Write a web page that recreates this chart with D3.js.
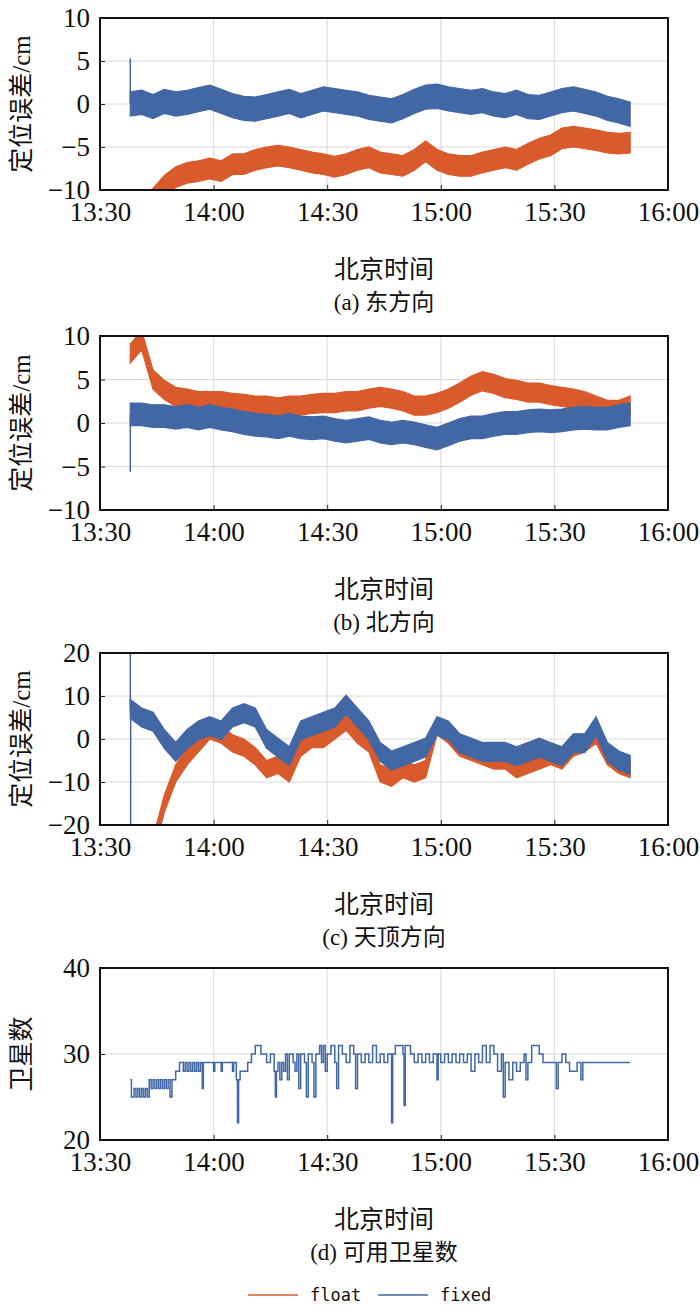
<!DOCTYPE html>
<html><head><meta charset="utf-8">
<script src="https://cdn.jsdelivr.net/npm/d3@7"></script>
<style>
body{margin:0;background:#fff}
text{font-family:"Liberation Serif","DejaVu Serif",serif;fill:#111}
.cjk{font-family:"Noto Sans CJK SC",sans-serif}
</style></head><body>
<svg id="chart" width="700" height="1310"></svg>
<script>
// minutes after 13:30
const T = [8,11,14,17,20,23,26,29,32,35,38,41,44,47,50,53,56,59,62,65,68,71,74,77,80,83,86,89,92,95,98,101,104,107,110,113,116,119,122,125,128,131,134,137,140];
const tickMin = [0,30,60,90,120,150];
const tickLabels = ['13:30','14:00','14:30','15:00','15:30','16:00'];

const eastFixed = [0,0.2,-0.3,0.3,0,0.2,0.5,0.8,0.3,-0.2,-0.5,-0.6,-0.3,0,0.3,-0.2,0.2,0.6,0.4,0.2,0,-0.4,-0.6,-0.8,-0.3,0.3,0.8,0.9,0.6,0.4,0.2,0.4,0,-0.2,0.2,-0.3,-0.4,0,0.4,0.6,0.3,0,-0.5,-0.8,-1.2];
const eastFloat = [-12,-12,-11,-9.5,-8.5,-8,-7.8,-7.5,-7.8,-7,-7,-6.5,-6.2,-6,-6.2,-6.5,-6.8,-7,-7.3,-7,-6.5,-6.2,-6.8,-7,-7.2,-6.5,-5.5,-6.5,-7,-7.2,-7.2,-6.8,-6.5,-6.2,-6.5,-5.8,-5.2,-4.8,-4,-3.8,-4,-4.2,-4.5,-4.6,-4.5];
const northFixed = [1,1,0.8,0.8,0.6,0.8,0.5,0.8,0.5,0.3,0,-0.2,-0.3,-0.5,-0.2,-0.5,-0.6,-0.5,-0.8,-1,-0.8,-0.6,-1,-1.2,-1,-1.2,-1.5,-1.8,-1.3,-0.8,-0.5,-0.5,-0.2,0,0,0.2,0.3,0.2,0.3,0.5,0.6,0.5,0.5,0.8,1];
const northFloat = [8,9.5,5,3.8,3,2.8,2.5,2.5,2.5,2.3,2.2,2,2,1.8,2,2,2.2,2.3,2.3,2.5,2.5,2.8,3,2.8,2.5,2,2,2.3,2.8,3.5,4.3,4.8,4.5,4,3.8,3.5,3.5,3.2,3,2.8,2.5,2,1.5,1.5,2];
const upFixed = [7,5,4,0,-3,0,2,3,2,5,6,5,0,-2,-4,2,3,4,5,8,5,2,-3,-5,-4,-3,-2,3,2,-1,-2,-3,-3,-3,-4,-3,-2,-3,-4,-1,-1,3,-3,-5,-6];
const upFloat = [null,null,-25,-15,-8,-4,-1,2,1,-1,-2,-4,-7,-6,-8,-2,0,0,2,4,1,-1,-8,-9,-7,-8,-7,3,1,-2,-3,-4,-5,-5,-7,-6,-5,-4,-5,-2,-1,1,-4,-6,-7];
// noise half-width of each trace (cm)
const spread = {eastFixed:1.4, eastFloat:1.2, northFixed:1.3, northFloat:1.1, upFixed:2.2, upFloat:2};
// single-epoch spikes at start [minute, value]
const eastSpike = [8,5.3], northSpike = [8,-5.6], upSpike = [8,20], upSpike2 = [8.1,-20];

const satTime = [8,8.3,9,9.5,10,10.5,11,11.5,12,12.5,13,13.5,14,14.5,15,15.5,16,16.5,17,17.5,18,18.5,19,20,21,22,22.5,23,23.5,24,24.5,25,25.5,26,26.5,27,27.3,30,30.3,32,32.3,35,35.3,36,36.3,36.6,37,39,40,41,42.5,44,45,46,46.3,46.6,47,47.5,48,48.5,49,49.5,50,51,51.5,52,52.5,53,54,54.5,55,56,56.5,57,58,58.5,59,59.5,60,61,62,62.5,63,64,65,66,67,67.5,68,69,70,71,72,73,74,75,76,77,77.3,78,80,80.3,80.6,82,83,84,85,86,87,88,89,89.3,90,91,92,93,94,95,96,97,98,99,100,101,102,103,104,105,106,106.5,107,108,109,110,111,112,112.5,113,114,116,117,120,120.5,121,122,123,124,126,127,127.5,128,140];
const satCount = [27,25,26,25,26,25,26,25,26,25,27,26,27,26,27,26,27,26,27,26,27,25,27,28,29,28,29,28,29,28,29,28,29,28,29,26,29,28,29,28,29,28,29,27,22,27,28,29,30,31,30,29,30,28,25,28,29,27,29,28,30,27,30,29,28,30,26,30,29,25,30,29,25,30,31,29,31,28,30,31,29,26,31,30,29,31,30,26,30,29,30,29,31,29,30,29,30,22,30,31,30,24,31,30,29,30,29,30,29,30,27,30,29,30,29,30,29,30,29,30,28,30,29,31,29,31,30,28,30,25,29,27,29,28,29,30,27,29,31,30,29,29,26,29,30,29,28,29,27,29,29,29];

const cFloat = '#d95a2b', cFixed = '#4167a4';
const serif = '"Liberation Serif","DejaVu Serif",serif';
const svg = d3.select('#chart');
const x = d3.scaleLinear().domain([0,150]).range([100,668]);

const panels = [
  {top:18, bottom:190, dom:[-10,10], ticks:[-10,-5,0,5,10], ylab:'定位误差/cm', cap:'(a) 东方向',
   series:[[eastFloat,spread.eastFloat,cFloat],[eastFixed,spread.eastFixed,cFixed]], spikes:[[eastSpike,eastFixed[0]]]},
  {top:336, bottom:510, dom:[-10,10], ticks:[-10,-5,0,5,10], ylab:'定位误差/cm', cap:'(b) 北方向',
   series:[[northFloat,spread.northFloat,cFloat],[northFixed,spread.northFixed,cFixed]], spikes:[[northSpike,northFixed[0]]]},
  {top:653, bottom:825, dom:[-20,20], ticks:[-20,-10,0,10,20], ylab:'定位误差/cm', cap:'(c) 天顶方向',
   series:[[upFloat,spread.upFloat,cFloat],[upFixed,spread.upFixed,cFixed]], spikes:[[upSpike,upFixed[0]],[upSpike2,upFixed[0]]]},
  {top:968, bottom:1140, dom:[20,40], ticks:[20,30,40], ylab:'卫星数', cap:'(d) 可用卫星数', sat:true}
];

panels.forEach((p, i) => {
  const y = d3.scaleLinear().domain(p.dom).range([p.bottom, p.top]);
  const g = svg.append('g');
  g.append('clipPath').attr('id','clip'+i).append('rect')
    .attr('x',100).attr('y',p.top).attr('width',568).attr('height',p.bottom-p.top);

  // Grid
  g.append('g').selectAll('line.gx').data(tickMin.slice(1,-1)).join('line')
    .attr('x1',d=>x(d)).attr('x2',d=>x(d)).attr('y1',p.top).attr('y2',p.bottom)
    .attr('stroke','#d8d8d8').attr('stroke-width',1);
  g.append('g').selectAll('line.gy').data(p.ticks.slice(1,-1)).join('line')
    .attr('x1',100).attr('x2',668).attr('y1',d=>y(d)).attr('y2',d=>y(d))
    .attr('stroke','#d8d8d8').attr('stroke-width',1);

  const plot = g.append('g').attr('clip-path','url(#clip'+i+')');
  if (p.sat) {
    plot.append('path').datum(satTime.map((t,k)=>[t,satCount[k]]))
      .attr('d', d3.line().x(d=>x(d[0])).y(d=>y(d[1])).curve(d3.curveStepAfter))
      .attr('fill','none').attr('stroke',cFixed).attr('stroke-width',1.5);
  } else {
    p.series.forEach(([vals, w, col]) => {
      const pts = T.map((t,k)=>[t,vals[k]]);
      plot.append('path').datum(pts)
        .attr('d', d3.area().defined(d=>d[1]!==null).x(d=>x(d[0]))
          .y0(d=>y(d[1]-w)).y1(d=>y(d[1]+w)))
        .attr('fill',col).attr('stroke',col).attr('stroke-width',1.2);
    });
    p.spikes.forEach(([s, base]) => {
      plot.append('line').attr('x1',x(s[0])).attr('x2',x(s[0]))
        .attr('y1',y(base)).attr('y2',y(s[1])).attr('stroke',cFixed).attr('stroke-width',1.5);
    });
  }

  // Axes (inward ticks)
  const xa = d3.axisBottom(x).tickValues(tickMin).tickFormat((d,k)=>tickLabels[k]).tickSizeInner(-5).tickSizeOuter(0).tickPadding(12);
  g.append('g').attr('transform',`translate(0,${p.bottom})`).call(xa)
    .call(a=>{a.select('.domain').remove();a.selectAll('text').style('font-size','27px').style('font-family',serif);});
  const ya = d3.axisLeft(y).tickValues(p.ticks).tickSizeInner(-5).tickSizeOuter(0).tickPadding(10)
    .tickFormat(d=>d<0?'\u2212'+Math.abs(d):d);
  g.append('g').attr('transform','translate(100,0)').call(ya)
    .call(a=>{a.select('.domain').remove();a.selectAll('text').style('font-size','27px').style('font-family',serif);});
  g.selectAll('.tick line').attr('stroke','#222');
  g.append('rect').attr('x',100).attr('y',p.top).attr('width',568).attr('height',p.bottom-p.top)
    .attr('fill','none').attr('stroke','#111').attr('stroke-width',2);

  // Labels
  const yl = g.append('text').attr('transform',`translate(30,${(p.top+p.bottom)/2}) rotate(-90)`)
    .attr('text-anchor','middle').style('font-size','25px');
  if (p.sat) yl.append('tspan').attr('class','cjk').text(p.ylab);
  else { yl.append('tspan').attr('class','cjk').text('定位误差'); yl.append('tspan').text('/cm'); }
  g.append('text').attr('class','cjk').attr('x',384).attr('y',p.bottom+88)
    .attr('text-anchor','middle').style('font-size','25px').text('北京时间');
  const cap = g.append('text').attr('x',384).attr('y',p.bottom+120)
    .attr('text-anchor','middle').style('font-size','23px');
  const m = p.cap.match(/^(\(.\)) (.*)$/);
  cap.append('tspan').style('font-family',serif).text(m[1]+' ');
  cap.append('tspan').attr('class','cjk').text(m[2]);
});

// Legend
const legend = svg.append('g').attr('transform','translate(0,1295)');
[{label:'float',color:cFloat,x:248},{label:'fixed',color:cFixed,x:378}].forEach(d=>{
  legend.append('line').attr('x1',d.x).attr('x2',d.x+50).attr('y1',0).attr('y2',0)
    .attr('stroke',d.color).attr('stroke-width',1.5);
  legend.append('text').attr('x',d.x+62).attr('y',6).style('font-size','17px')
    .style('font-family','"DejaVu Sans Mono",monospace').text(d.label);
});
</script></body></html>
